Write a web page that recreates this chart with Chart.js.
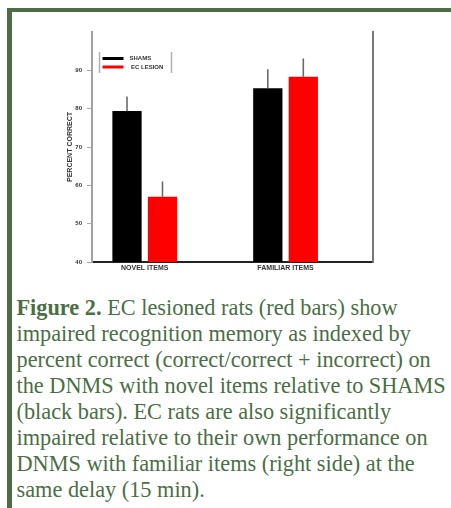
<!DOCTYPE html>
<html><head><meta charset="utf-8">
<script src="https://cdn.jsdelivr.net/npm/chart.js@4.4.1/dist/chart.umd.min.js"></script>
<style>
html,body{margin:0;padding:0;background:#fff;width:451px;height:508px;overflow:hidden;}
#frame{position:absolute;left:7px;top:8px;width:444px;height:500px;border-top:4px solid #4c6c44;border-left:5px solid #4c6c44;box-sizing:border-box;}
#c{position:absolute;left:0;top:0;}
#cap{position:absolute;left:16.5px;top:295.2px;font-family:"Liberation Serif","Times New Roman",serif;font-size:22.3px;line-height:26px;color:#4b6e45;white-space:nowrap;}
</style></head><body>
<div id="frame"></div>
<canvas id="c" width="451" height="276"></canvas>
<div id="cap"><b>Figure 2.</b> EC lesioned rats (red bars) show<br>impaired recognition memory as indexed by<br>percent correct (correct/correct + incorrect) on<br>the DNMS with novel items relative to SHAMS<br>(black bars). EC rats are also significantly<br>impaired relative to their own performance on<br>DNMS with familiar items (right side) at the<br>same delay (15 min).</div>
<script>
const categories = ['NOVEL ITEMS', 'FAMILIAR ITEMS'];
const seriesNames = ['SHAMS', 'EC LESION'];
const shamValues = [79.4, 85.3];
const lesionValues = [57.0, 88.3];
const shamErrors = [3.8, 5.0];
const lesionErrors = [4.0, 4.8];
const yTicks = [40, 50, 60, 70, 80, 90];
const yMin = 40, yMax = 100;

Chart.defaults.font.family = "'Liberation Sans', Arial, sans-serif";

const toPoints = vals => vals.map((v, i) => ({x: i, y: v}));

const errorBars = {
  id: 'errorBars',
  afterDatasetsDraw(chart) {
    const {ctx} = chart;
    const ys = chart.scales.y;
    chart.data.datasets.forEach((ds, i) => {
      const meta = chart.getDatasetMeta(i);
      meta.data.forEach((bar, j) => {
        const v = ds.data[j].y, e = ds.errors[j];
        ctx.save();
        ctx.strokeStyle = '#6a6a6a';
        ctx.lineWidth = 1.6;
        ctx.beginPath();
        ctx.moveTo(bar.x, bar.y);
        ctx.lineTo(bar.x, ys.getPixelForValue(v + e));
        ctx.stroke();
        ctx.restore();
      });
    });
  }
};

const bracketLegend = {
  id: 'bracketLegend',
  afterDraw(chart) {
    const {ctx, chartArea: a} = chart;
    const x0 = a.left + 7.5, y0 = a.top + 20, h = 21, w = 72, rowH = 8.5;
    ctx.save();
    ctx.strokeStyle = '#b0b0b0';
    ctx.lineWidth = 1.5;
    ctx.beginPath();
    ctx.moveTo(x0, y0); ctx.lineTo(x0, y0 + h);
    ctx.moveTo(x0 + w, y0); ctx.lineTo(x0 + w, y0 + h);
    ctx.stroke();
    chart.data.datasets.forEach((ds, i) => {
      const y = y0 + 6.5 + i * rowH;
      ctx.strokeStyle = ds.backgroundColor;
      ctx.lineWidth = 3;
      ctx.beginPath();
      ctx.moveTo(x0 + 3, y); ctx.lineTo(x0 + 24, y);
      ctx.stroke();
      ctx.fillStyle = '#333';
      ctx.font = "bold 6px 'Liberation Sans', Arial, sans-serif";
      ctx.textBaseline = 'middle';
      ctx.fillText(ds.label, x0 + 30 + i * 1.5, y);
    });
    ctx.restore();
  }
};

new Chart(document.getElementById('c'), {
  type: 'bar',
  data: {
    datasets: [
      {label: seriesNames[0], data: toPoints(shamValues), errors: shamErrors, backgroundColor: '#000000'},
      {label: seriesNames[1], data: toPoints(lesionValues), errors: lesionErrors, backgroundColor: '#ff0000'}
    ]
  },
  options: {
    responsive: false,
    animation: false,
    devicePixelRatio: 1,
    categoryPercentage: 0.504,
    barPercentage: 0.825,
    layout: {padding: {left: 0, right: 78, top: 32, bottom: 0}},
    plugins: {legend: {display: false}, tooltip: {enabled: false}},
    scales: {
      x: {
        type: 'linear', min: -0.3746, max: 1.621, offset: false,
        afterBuildTicks: s => { s.ticks = categories.map((_, i) => ({value: i})); },
        ticks: {callback: v => categories[v] ?? '', font: {size: 7, weight: 'bold'}, color: '#333', padding: 2, maxRotation: 0, autoSkip: false},
        grid: {display: false, drawTicks: false},
        border: {display: true, color: '#222', width: 2},
        afterFit: s => { s.height = 14; }
      },
      y: {
        position: 'left', min: yMin, max: yMax,
        afterBuildTicks: s => { s.ticks = yTicks.map(v => ({value: v})); },
        ticks: {font: {size: 6, weight: 'bold'}, color: '#333', padding: 5},
        grid: {drawOnChartArea: false, drawTicks: true, tickLength: 5, color: '#aaa', lineWidth: 1},
        border: {color: '#a0a0a0', width: 2},
        title: {display: true, text: 'PERCENT CORRECT', font: {size: 7, weight: 'bold'}, color: '#333', padding: {top: 66, bottom: 0}},
        afterFit: s => { s.width = 92; }
      },
      y2: {
        position: 'right', display: true, min: yMin, max: yMax,
        ticks: {display: false},
        grid: {display: false, drawTicks: false},
        border: {display: true, color: '#777', width: 2},
        afterFit: s => { s.width = 0; }
      }
    }
  },
  plugins: [errorBars, bracketLegend]
});
</script>
</body></html>
